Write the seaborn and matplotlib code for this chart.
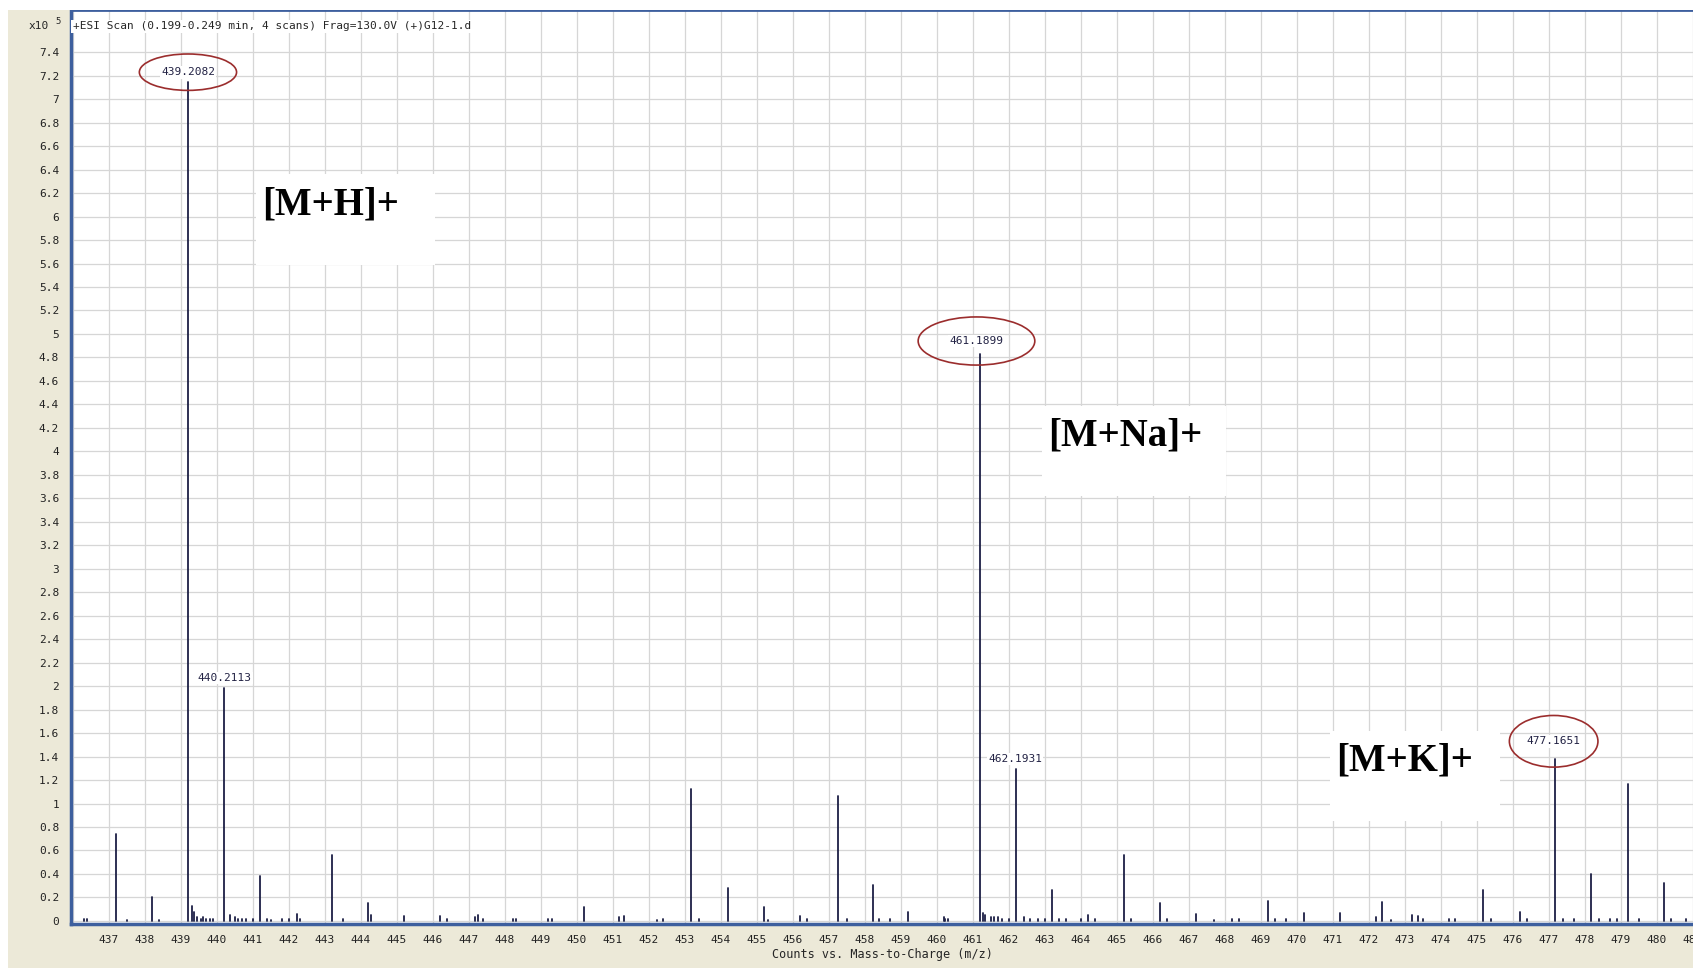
import numpy as np
import pandas as pd
import seaborn as sns
import matplotlib.pyplot as plt
from matplotlib.patches import Ellipse, Rectangle

# peak list (m/z, counts in units of 1e5)
mz = [437.19, 438.21, 439.2082, 439.30, 439.36, 440.2113, 440.38, 441.20,
      442.22, 443.20, 444.19, 444.28, 445.21, 446.21, 447.18, 447.26,
      448.24, 449.30, 450.21, 451.18, 451.31, 452.24, 453.18, 454.19,
      455.20, 456.20, 457.26, 458.22, 459.19, 460.23, 461.1899, 461.29,
      461.35, 462.1931, 462.42, 463.20, 464.20, 465.20, 466.20, 467.21,
      468.20, 469.21, 470.20, 471.20, 472.20, 472.36, 473.19, 473.35,
      474.22, 475.16, 476.20, 477.1651, 478.18, 479.19, 480.19, 481.20]
counts = [0.74, 0.20, 7.15, 0.13, 0.08, 1.98, 0.05, 0.38,
          0.06, 0.56, 0.15, 0.05, 0.04, 0.04, 0.03, 0.05,
          0.02, 0.02, 0.12, 0.03, 0.04, 0.01, 1.12, 0.28,
          0.12, 0.04, 1.06, 0.31, 0.08, 0.02, 4.83, 0.07,
          0.05, 1.29, 0.03, 0.26, 0.05, 0.56, 0.15, 0.06,
          0.02, 0.17, 0.07, 0.07, 0.03, 0.16, 0.05, 0.04,
          0.02, 0.26, 0.08, 1.38, 0.40, 1.17, 0.32, 0.04]
# baseline noise sticks
noise_mz = [436.3, 436.4, 437.5, 438.4, 439.45, 439.55, 439.62, 439.7, 439.8,
            439.9, 440.5, 440.6, 440.7, 440.8, 441.0, 441.4, 441.5, 441.8,
            442.0, 442.3, 443.5, 446.4, 447.4, 448.3, 449.2, 452.4, 453.4,
            455.3, 456.4, 457.5, 458.4, 458.7, 460.2, 460.3, 461.5, 461.6,
            461.7, 461.8, 462.0, 462.6, 462.8, 463.0, 463.4, 463.6, 464.0,
            464.4, 465.4, 466.4, 467.7, 468.4, 469.4, 469.7, 472.6, 473.5,
            474.4, 475.4, 476.4, 477.4, 477.7, 478.4, 478.7, 478.9, 479.5,
            480.4, 480.8]
noise_counts = [0.02, 0.02, 0.01, 0.01, 0.03, 0.02, 0.03, 0.02, 0.02,
                0.02, 0.03, 0.02, 0.02, 0.02, 0.02, 0.02, 0.01, 0.02,
                0.02, 0.02, 0.02, 0.02, 0.02, 0.02, 0.02, 0.02, 0.02,
                0.01, 0.02, 0.02, 0.02, 0.02, 0.03, 0.02, 0.03, 0.03,
                0.03, 0.02, 0.02, 0.02, 0.02, 0.02, 0.02, 0.02, 0.02,
                0.02, 0.02, 0.02, 0.01, 0.02, 0.02, 0.02, 0.01, 0.02,
                0.02, 0.02, 0.02, 0.02, 0.02, 0.02, 0.02, 0.02, 0.02,
                0.02, 0.02]

# labelled peaks: text, label x, label y, circled?
lab_text = ["439.2082", "440.2113", "461.1899", "462.1931", "477.1651"]
lab_x = [439.2, 440.22, 461.1, 462.17, 477.13]
lab_y = [7.23, 2.07, 4.94, 1.38, 1.53]
lab_circle = [True, False, True, False, True]
ell_w = [2.7, 0, 3.24, 0, 2.46]
ell_h = [0.31, 0, 0.41, 0, 0.44]

# ion annotations (left edge of text, vertical centre)
ion_text = ["[M+H]+", "[M+Na]+", "[M+K]+"]
ion_x = [441.26, 463.09, 471.09]
ion_y = [6.10, 4.13, 1.36]
box_w = [4.97, 5.1, 4.72]

all_mz = mz + noise_mz
all_counts = counts + noise_counts
rows = []
for i, (m, c) in enumerate(zip(all_mz, all_counts)):
    rows.append({"pid": i, "mz": m, "counts": 0.0})
    rows.append({"pid": i, "mz": m, "counts": c})
df = pd.DataFrame(rows)

sns.set_style("white")
plt.rcParams['font.family'] = ['DejaVu Sans Mono']

beige = "#ECE9D8"
blue = "#3d5f9e"
fig = plt.figure(figsize=(16.93, 9.68), dpi=100, facecolor=beige)
fig.patches.append(Rectangle((0, 0.99), 1, 0.01, transform=fig.transFigure,
                             facecolor="white", edgecolor="none", zorder=0))
fig.patches.append(Rectangle((0, 0), 0.005, 1, transform=fig.transFigure,
                             facecolor="white", edgecolor="none", zorder=0))
ax = fig.add_axes([0.0419, 0.0455, 0.9581, 0.9442])
ax.set_facecolor("white")

sns.lineplot(data=df, x="mz", y="counts", units="pid", estimator=None,
             color="#1c1f45", lw=1.3, sort=False, ax=ax, legend=False)

ax.set_xlim(435.95, 480.97)
ax.set_ylim(-0.026, 7.76)
ax.set_xticks(np.arange(436, 482))
ax.set_xticklabels([""] + [str(v) for v in range(437, 482)])
ax.set_yticks(np.arange(0, 7.41, 0.2))
ax.set_yticklabels([f"{v:.1f}".rstrip("0").rstrip(".") for v in np.arange(0, 7.41, 0.2)])
ax.grid(True, color="#d6d6d6", lw=0.9)
ax.set_axisbelow(True)
ax.tick_params(axis="both", labelsize=8, length=5, width=1, colors="#222222",
               direction="out")
ax.tick_params(axis="x", pad=3)
for s in ["left", "bottom"]:
    ax.spines[s].set_color(blue)
    ax.spines[s].set_linewidth(2.5)
ax.spines["top"].set_color(blue)
ax.spines["top"].set_linewidth(2)
ax.spines["right"].set_visible(False)
ax.set_xlabel("Counts vs. Mass-to-Charge (m/z)", fontsize=8.5, labelpad=2)
ax.set_ylabel("")

ax.text(0.001, 0.982, "+ESI Scan (0.199-0.249 min, 4 scans) Frag=130.0V (+)G12-1.d",
        transform=ax.transAxes, fontsize=8, va="center", ha="left",
        bbox=dict(facecolor="white", edgecolor="none", pad=1))
fig.text(0.017, 0.973, "x10", fontsize=8, va="center", ha="left")
fig.text(0.0325, 0.978, "5", fontsize=6.5, va="center", ha="left")

for t, x, y, circ, w, h in zip(lab_text, lab_x, lab_y, lab_circle, ell_w, ell_h):
    ax.text(x, y, t, fontsize=8, ha="center", va="center", color="#222244",
            bbox=dict(facecolor="white", edgecolor="none", pad=1), zorder=4)
    if circ:
        ax.add_patch(Ellipse((x, y), w, h, facecolor="none",
                             edgecolor="#9b2d2d", lw=1.2, zorder=5))

for t, x, y, w in zip(ion_text, ion_x, ion_y, box_w):
    ax.add_patch(Rectangle((x - 0.17, y - 0.51), w, 0.77, facecolor="white",
                           edgecolor="none", zorder=3))
    ax.text(x, y, t, fontsize=28, fontweight="bold", family="Liberation Serif",
            ha="left", va="center", color="black", zorder=4)

fig.savefig("out.png", dpi=100, facecolor=fig.get_facecolor())
